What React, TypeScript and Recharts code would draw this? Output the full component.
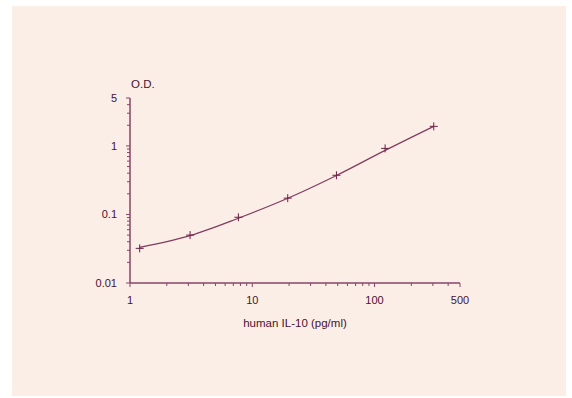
import React from 'react';
import { ComposedChart, Line, XAxis, YAxis } from 'recharts';

// standard curve, human IL-10 ELISA
const doseValues = [1.2, 3.1, 7.7, 19.5, 48.8, 122, 305];
const odMeasured = [0.032, 0.05, 0.091, 0.173, 0.373, 0.92, 1.93];
const odFitted = [0.033, 0.049, 0.088, 0.172, 0.37, 0.86, 1.93];

const xMajorTicks = [1, 10, 100, 500];
const xMinorTicks = [2, 3, 4, 5, 6, 7, 8, 9, 20, 30, 40, 50, 60, 70, 80, 90, 200, 300, 400];
const yMajorTicks = [0.01, 0.1, 1, 5];
const yMinorTicks = [0.02, 0.03, 0.04, 0.05, 0.06, 0.07, 0.08, 0.09, 0.2, 0.3, 0.4, 0.5, 0.6, 0.7, 0.8, 0.9, 2, 3, 4];

const chartData = doseValues.map((dose, i) => ({
  dose,
  measured: odMeasured[i],
  fitted: odFitted[i],
}));

const BG = '#faeee6';
const AXIS = '#8a4468';
const INK = '#4a1030';
const CURVE = '#843a60';
const FONT = '"Liberation Sans", Arial, sans-serif';

const XTick = (props: any) => {
  const { x, y, payload } = props;
  const major = xMajorTicks.includes(payload.value);
  return (
    <g>
      <line x1={x} x2={x} y1={y} y2={y + (major ? 4 : 3)} stroke={AXIS} strokeWidth={1} />
      {major && (
        <text x={x} y={y + 21} textAnchor="middle" fill={INK} fontSize={11} fontFamily={FONT}>
          {payload.value}
        </text>
      )}
    </g>
  );
};

const YTick = (props: any) => {
  const { x, y, payload } = props;
  const major = yMajorTicks.includes(payload.value);
  return (
    <g>
      <line x1={x} x2={x - (major ? 4 : 3)} y1={y} y2={y} stroke={AXIS} strokeWidth={1} />
      {major && (
        <text x={x - 13} y={y} dy="0.35em" textAnchor="end" fill={INK} fontSize={11} fontFamily={FONT}>
          {payload.value}
        </text>
      )}
    </g>
  );
};

const PlusDot = (props: any) => {
  const { cx, cy } = props;
  if (cx == null || cy == null) return null;
  return (
    <g>
      <line x1={cx - 4} x2={cx + 4} y1={cy} y2={cy} stroke="#6b2046" strokeWidth={1} />
      <line x1={cx} x2={cx} y1={cy - 4} y2={cy + 4} stroke="#6b2046" strokeWidth={1} />
    </g>
  );
};

const App: React.FC = () => {
  return (
    <div style={{ position: 'absolute', left: 12, top: 6, width: 554, height: 390, background: BG }}>
      <ComposedChart
        width={554}
        height={390}
        data={chartData}
        margin={{ top: 92, right: 106, bottom: 83, left: 78 }}
      >
        <XAxis
          dataKey="dose"
          type="number"
          scale="log"
          domain={[1, 500]}
          allowDataOverflow
          ticks={[...xMajorTicks, ...xMinorTicks]}
          interval={0}
          tickSize={0}
          tickMargin={0}
          tickLine={false}
          tick={<XTick />}
          height={30}
          axisLine={{ stroke: AXIS, strokeWidth: 1.5 }}
          label={{
            content: (p: any) => {
              const vb = p.viewBox;
              return (
                <text
                  x={vb.x + vb.width / 2}
                  y={vb.y + 44}
                  textAnchor="middle"
                  fill={INK}
                  fontSize={11.5}
                  fontFamily={FONT}
                >
                  human IL-10 (pg/ml)
                </text>
              );
            },
          }}
        />
        <YAxis
          type="number"
          scale="log"
          domain={[0.01, 5]}
          allowDataOverflow
          ticks={[...yMajorTicks, ...yMinorTicks]}
          interval={0}
          tickSize={0}
          tickMargin={0}
          tickLine={false}
          tick={<YTick />}
          width={40}
          axisLine={{ stroke: AXIS, strokeWidth: 1.5 }}
          label={{
            content: (p: any) => {
              const vb = p.viewBox;
              return (
                <text x={vb.x + vb.width + 1} y={vb.y - 10} fill={INK} fontSize={11.5} fontFamily={FONT}>
                  O.D.
                </text>
              );
            },
          }}
        />
        <Line
          dataKey="fitted"
          type="monotone"
          stroke={CURVE}
          strokeWidth={1.2}
          dot={false}
          isAnimationActive={false}
        />
        <Line
          dataKey="measured"
          stroke="none"
          dot={<PlusDot />}
          activeDot={false}
          isAnimationActive={false}
        />
      </ComposedChart>
    </div>
  );
};

export default App;
